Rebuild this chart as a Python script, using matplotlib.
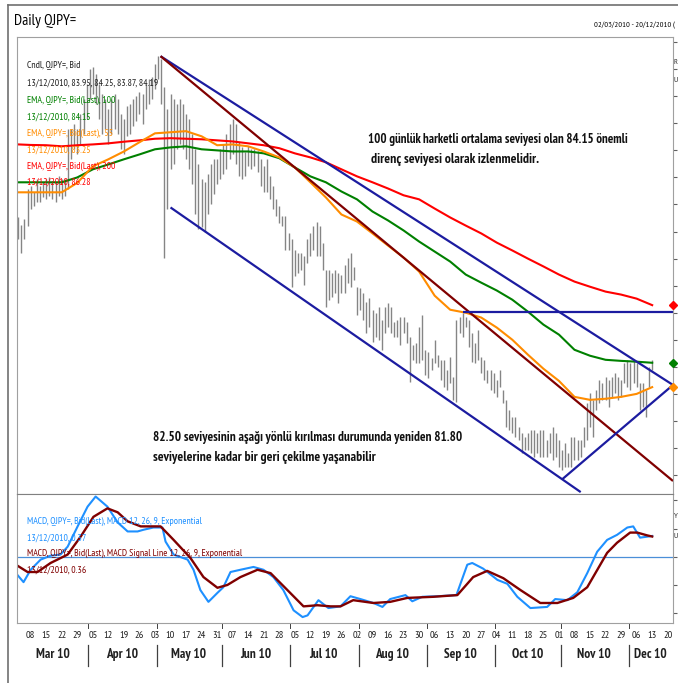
import matplotlib.pyplot as plt
import numpy as np
import pandas as pd
from matplotlib.lines import Line2D

# --- daily bars (high / low), 02/03/2010 .. 13/12/2010 ---
highs = [
    89.52, 89.26, 89.45, 90.56, 90.67, 90.45, 90.93, 90.67, 90.82, 90.93,
    91.00, 90.85, 90.82, 91.04, 90.93, 90.93, 92.78, 92.78, 92.96, 92.78,
    93.34, 93.89, 94.45, 95.00, 95.08, 94.82, 94.45, 94.08, 93.89, 93.52,
    93.89, 94.08, 93.89, 93.34, 93.15, 93.63, 93.71, 93.89, 94.00, 94.15,
    94.08, 94.45, 94.63, 94.71, 95.19, 95.48, 95.37, 94.33, 93.52, 94.08,
    93.89, 93.71, 93.89, 93.71, 93.34, 93.15, 92.59, 92.04, 91.48, 90.93,
    90.82, 91.11, 91.48, 91.67, 91.67, 92.04, 92.22, 92.59, 92.96, 93.15,
    92.96, 92.30, 92.11, 91.93, 92.15, 92.04, 92.04, 91.96, 91.67, 91.41,
    91.67, 91.04, 90.67, 90.19, 89.93, 89.56, 89.56, 88.96, 88.71, 88.33,
    88.22, 88.22, 88.08, 88.71, 88.96, 89.19, 89.34, 89.19, 88.59, 87.59,
    87.59, 87.48, 87.59, 87.48, 87.41, 87.78, 88.04, 88.22, 87.70, 86.96,
    86.93, 86.74, 86.41, 86.56, 86.11, 86.00, 86.22, 85.74, 86.22, 86.37,
    86.22, 85.67, 85.74, 85.85, 85.85, 85.67, 85.11, 84.82, 84.89, 85.48,
    85.93, 84.63, 84.56, 84.33, 85.00, 84.45, 84.26, 84.26, 83.89, 84.37,
    83.63, 85.74, 85.85, 86.00, 85.85, 85.74, 85.26, 84.89, 85.37, 84.37,
    84.26, 83.89, 83.89, 83.78, 83.52, 83.89, 83.15, 82.78, 82.41, 82.15,
    82.15, 81.78, 81.56, 81.41, 81.56, 81.67, 81.67, 81.56, 81.67, 81.67,
    81.30, 81.56, 81.78, 81.56, 81.30, 80.93, 81.19, 80.82, 81.41, 81.41,
    81.30, 81.30, 81.78, 82.67, 83.04, 82.78, 83.15, 83.52, 83.41, 83.63,
    83.52, 83.63, 83.78, 83.63, 83.52, 84.15, 84.26, 84.15, 84.26, 84.15,
    83.41, 83.41, 83.15, 84.00, 84.25,
]
lows = [
    88.71, 88.22, 88.71, 89.19, 89.82, 89.93, 90.08, 90.08, 90.26, 90.19,
    90.30, 90.19, 90.08, 90.30, 90.19, 90.30, 90.56, 91.67, 92.04, 91.85,
    92.22, 92.59, 93.15, 93.89, 94.08, 93.71, 93.15, 92.59, 92.78, 92.22,
    92.59, 92.78, 92.59, 92.04, 91.85, 92.52, 92.59, 92.89, 93.08, 93.34,
    92.96, 93.52, 93.71, 93.89, 94.26, 94.63, 93.71, 88.04, 89.82, 91.30,
    91.48, 92.04, 92.22, 92.04, 91.67, 91.30, 90.74, 89.63, 89.08, 89.15,
    89.00, 89.63, 90.00, 90.37, 90.74, 90.93, 91.11, 91.30, 91.67, 91.85,
    91.48, 91.04, 90.93, 91.04, 91.41, 91.30, 91.41, 91.19, 90.67, 90.45,
    90.45, 90.19, 89.82, 89.56, 89.33, 89.19, 88.33, 88.33, 86.96, 87.34,
    87.48, 87.59, 87.04, 87.85, 88.08, 88.33, 88.08, 88.08, 87.59, 86.22,
    86.48, 86.59, 86.74, 86.37, 86.74, 86.74, 87.11, 86.96, 87.22, 85.93,
    86.11, 85.74, 85.26, 85.48, 84.93, 85.11, 85.00, 84.63, 85.26, 85.48,
    85.26, 85.11, 85.11, 84.82, 85.26, 84.89, 83.45, 84.26, 84.15, 84.15,
    84.26, 83.71, 83.59, 83.89, 84.15, 84.00, 83.52, 83.26, 83.15, 83.41,
    82.78, 82.71, 85.26, 85.11, 85.48, 84.74, 84.19, 84.15, 84.26, 83.78,
    83.52, 83.41, 83.15, 83.04, 82.89, 83.26, 82.67, 81.78, 81.67, 81.56,
    81.41, 81.30, 80.82, 80.93, 80.93, 80.82, 80.67, 80.82, 80.67, 80.67,
    80.67, 80.82, 80.56, 80.67, 80.30, 80.19, 80.30, 80.30, 80.30, 80.56,
    80.56, 80.67, 81.04, 81.30, 81.78, 81.41, 82.41, 82.67, 82.78, 82.78,
    82.52, 82.89, 83.04, 82.78, 82.89, 83.41, 83.26, 83.15, 83.41, 83.26,
    82.41, 82.52, 82.15, 83.26, 83.87,
]

# EMA readings (bar index -> value)
ema_idx = [0, 4, 9, 14, 19, 24, 29, 34, 39, 44, 49, 54, 59, 64, 69, 74, 79, 84, 89, 94, 99,
           104, 109, 114, 119, 124, 129, 134, 139, 144, 149, 154, 159, 164, 169, 174, 179,
           184, 189, 194, 199, 204]
ema200 = [92.22, 92.20, 92.19, 92.15, 92.19, 92.22, 92.26, 92.32, 92.37, 92.43,
          92.45, 92.43, 92.41, 92.37, 92.33, 92.26, 92.19, 92.08, 91.89, 91.74,
          91.56, 91.30, 91.04, 90.82, 90.59, 90.34, 90.19, 89.85, 89.52, 89.22,
          88.93, 88.59, 88.30, 88.00, 87.71, 87.41, 87.15, 86.96, 86.78, 86.67,
          86.52, 86.28]
ema100 = [90.82, 90.82, 90.82, 90.82, 91.00, 91.30, 91.48, 91.67, 91.85, 92.04,
          92.11, 92.15, 92.04, 92.00, 91.96, 91.96, 91.89, 91.71, 91.37, 91.04,
          90.82, 90.48, 90.19, 89.74, 89.41, 89.04, 88.63, 88.26, 87.89, 87.41,
          87.11, 86.82, 86.48, 86.04, 85.56, 85.19, 84.63, 84.41, 84.26, 84.22,
          84.19, 84.15]
ema55 = [90.45, 90.45, 90.45, 90.45, 90.80, 91.41, 91.67, 91.96, 92.30, 92.63,
         92.67, 92.71, 92.52, 92.19, 92.22, 92.15, 91.96, 91.74, 91.37, 90.82,
         90.26, 89.63, 89.37, 88.93, 88.48, 88.04, 87.52, 86.63, 86.11, 86.00,
         85.82, 85.45, 85.00, 84.45, 83.93, 83.48, 82.89, 82.78, 82.82, 82.89,
         83.00, 83.25]

# MACD readings
macd_idx = [-0.3, 1.7, 4.0, 7.2, 10.4, 13.6, 15.9, 19.1, 22.3, 24.9, 28.7, 32.0, 35.2, 38.4,
            40.3, 43.5, 46.4, 47.4, 50.0, 54.5, 56.4, 58.6, 61.2, 64.1, 66.0, 68.3, 71.5,
            75.7, 78.9, 82.1, 85.3, 88.6, 91.5, 93.1, 96.6, 99.8, 103.7, 106.9, 110.1,
            114.3, 117.2, 119.7, 124.6, 126.8, 130.0, 134.9, 141.0, 144.5, 146.1, 149.6,
            154.2, 157.4, 160.6, 164.8, 170.2, 172.8, 176.7, 179.9, 183.1, 186.3, 189.5,
            192.7, 196.0, 197.9, 200.1, 204.0]
macd_val = [-0.32, -0.45, -0.23, -0.05, 0.02, 0.04, 0.18, 0.54, 0.89, 1.07, 0.89, 0.61, 0.45,
            0.45, 0.48, 0.52, 0.52, 0.27, 0.04, -0.05, -0.23, -0.59, -0.80, -0.64, -0.54,
            -0.27, -0.23, -0.18, -0.23, -0.36, -0.59, -0.95, -1.07, -1.04, -0.77, -0.91,
            -0.88, -0.70, -0.75, -0.82, -0.89, -0.75, -0.68, -0.79, -0.71, -0.70, -0.68,
            -0.14, -0.11, -0.21, -0.41, -0.48, -0.71, -0.91, -0.89, -0.75, -0.77, -0.63,
            -0.29, 0.09, 0.30, 0.39, 0.52, 0.54, 0.34, 0.37]
signal_idx = [-0.2, 3.0, 6.2, 10.4, 15.9, 20.1, 24.2, 28.7, 32.0, 35.2, 39.4, 45.8, 50.0,
              55.4, 59.6, 64.1, 67.3, 71.5, 77.0, 81.2, 86.6, 91.8, 96.3, 100.5, 103.7,
              107.8, 114.3, 119.7, 125.2, 133.6, 141.3, 146.4, 150.9, 156.1, 161.6, 168.0,
              173.5, 178.6, 183.1, 189.5, 192.7, 196.9, 199.2, 202.4, 204.0]
signal_val = [-0.16, -0.27, -0.27, -0.11, 0.04, 0.36, 0.71, 0.86, 0.79, 0.63, 0.54, 0.54,
              0.30, -0.02, -0.36, -0.55, -0.50, -0.36, -0.23, -0.29, -0.59, -0.88, -0.86,
              -0.88, -0.88, -0.77, -0.82, -0.80, -0.73, -0.71, -0.68, -0.36, -0.25, -0.38,
              -0.59, -0.82, -0.82, -0.73, -0.54, 0.07, 0.25, 0.43, 0.43, 0.38, 0.36]

# hand-drawn trend lines: (bar index, price) pairs
trend_upper = [(45.8, 95.48), (210.7, 83.33)]
trend_maroon = [(45.8, 95.48), (210.7, 79.78)]
trend_lower = [(49.0, 89.89), (181.0, 79.37)]
trend_rise = [(175.1, 79.85), (210.7, 83.33)]
resistance = [(143.2, 86.04), (210.7, 86.04)]

NAVY = "#1c1ca0"
MAROON = "#800000"
GREEN = "#008000"
ORANGE = "#ff8c00"
RED = "#ff0000"
MBLUE = "#1e90ff"
FRAME = "#a0a0a0"
NARROW = ["PT Sans Narrow", "DejaVu Sans"]

W, H = 678, 683
fig = plt.figure(figsize=(W / 100, H / 100), dpi=100)
renderer = fig.canvas.get_renderer()


def fx(x):
    return x / W


def fy(y):
    return 1 - y / H


def fit_text(x, y, txt, width, **kw):
    """Place a figure text and scale its font so it spans `width` pixels."""
    t = fig.text(fx(x), fy(y), txt, **kw)
    w = t.get_window_extent(renderer=renderer).width
    t.set_fontsize(t.get_fontsize() * width / w)
    return t


ax = fig.add_axes([fx(16.7), fy(494), fx(673) - fx(16.7), fy(37) - fy(494)])
ax2 = fig.add_axes([fx(16.7), fy(622.7), fx(673) - fx(16.7), fy(494) - fy(622.7)], sharex=ax)

idx = np.arange(len(highs))
ax.vlines(idx, lows, highs, color="#858585", linewidth=1.0)

ax.plot(ema_idx, ema200, color=RED, linewidth=1.5)
ax.plot(ema_idx, ema100, color=GREEN, linewidth=1.5)
ax.plot(ema_idx, ema55, color=ORANGE, linewidth=1.5)

for seg, col in [(trend_upper, NAVY), (trend_maroon, MAROON), (trend_lower, NAVY),
                 (trend_rise, NAVY), (resistance, NAVY)]:
    xs, ys = zip(*seg)
    ax.plot(xs, ys, color=col, linewidth=1.6, solid_capstyle="butt")

# value markers on the right edge
xr = 210.7
for val, col in [(ema200[-1], RED), (ema100[-1], GREEN), (ema55[-1], ORANGE)]:
    ax.plot([xr], [val], marker="D", markersize=4.5, color=col, clip_on=False, zorder=5)

ax.set_xlim(-0.5, 210.7)
ax.set_ylim(79.30, 96.19)

ax.yaxis.tick_right()
ax.set_yticks(np.arange(80, 97, 1))
ax.set_yticklabels([])
ax.tick_params(axis="y", length=3, color="#606060", direction="out")
ax.tick_params(axis="x", length=0, labelbottom=False)
for s in ax.spines.values():
    s.set_color(FRAME)

# --- MACD panel ---
ax2.axhline(0, color="#4a8fd8", linewidth=0.9)
ax2.plot(macd_idx, macd_val, color=MBLUE, linewidth=1.5)
ax2.plot(signal_idx, signal_val, color=MAROON, linewidth=1.7)
ax2.set_ylim(-1.17, 1.115)
ax2.yaxis.tick_right()
ax2.set_yticks([-1.0, -0.5, 0.0, 0.5, 1.0])
ax2.set_yticklabels([])
ax2.tick_params(axis="y", length=3, color="#606060")
for s in ax2.spines.values():
    s.set_color(FRAME)
ax2.spines["top"].set_color("#808080")

days = pd.bdate_range("2010-03-02", "2010-12-20")
mondays = [i for i, d in enumerate(days) if d.weekday() == 0]
ax2.set_xticks(mondays)
ax2.set_xticklabels([f"{days[i].day:02d}" for i in mondays], fontsize=7.5, family=NARROW,
                    color="#202020")
ax2.tick_params(axis="x", length=0, pad=6)

months = ["Mar 10", "Apr 10", "May 10", "Jun 10", "Jul 10", "Aug 10", "Sep 10", "Oct 10",
          "Nov 10", "Dec 10"]
month_num = np.array([d.month for d in days])
trans = ax2.get_xaxis_transform()
for k, m in enumerate(range(3, 13)):
    ii = np.where(month_num == m)[0]
    lo, hi = ii[0], min(ii[-1], 210)
    ax2.text((lo + hi) / 2 + 0.8, -0.25, months[k], transform=trans, ha="center",
             va="center", fontsize=9.5, fontweight="bold", family=NARROW, color="#202020")
    if m > 3:
        ax2.add_line(Line2D([lo + 0.5, lo + 0.5], [-0.17, -0.34], transform=trans,
                            color="#404040", linewidth=0.9, clip_on=False))
        ax2.add_line(Line2D([lo + 0.5, lo + 0.5], [0.0, -0.04], transform=trans,
                            color="#404040", linewidth=0.7, clip_on=False))

# --- frame and titles ---
fig.add_artist(Line2D([fx(8), 1], [fy(5), fy(5)], color="#707070", linewidth=1.2))
fig.add_artist(Line2D([fx(8), fx(8)], [fy(5), 0], color="#707070", linewidth=1.2))
fit_text(14, 21, "Daily QJPY=", 63, fontsize=12, va="center", family=NARROW)
fit_text(594, 26, "02/03/2010 - 20/12/2010 (", 82, fontsize=6, va="center", family=NARROW)
for letter, yy in [("R", 62), ("U", 80), ("Y", 516), ("U", 537)]:
    fig.text(fx(677.5), fy(yy), letter, fontsize=6, va="center", ha="right",
             family=NARROW, color="#303030")

legend_lines = [
    ("Cndl, QJPY=, Bid", 65, "#202020"),
    ("13/12/2010, 83.95, 84.25, 83.87, 84.19", 83, "#202020"),
    ("EMA, QJPY=, Bid(Last), 100", 100, GREEN),
    ("13/12/2010, 84.15", 117, GREEN),
    ("EMA, QJPY=, Bid(Last),  55", 133, ORANGE),
    ("13/12/2010, 83.25", 150, ORANGE),
    ("EMA, QJPY=, Bid(Last), 200", 166, RED),
    ("13/12/2010, 86.28", 182, RED),
    ("MACD, QJPY=, Bid(Last), MACD 12, 26, 9, Exponential", 521, MBLUE),
    ("13/12/2010, 0.37", 538, MBLUE),
    ("MACD, QJPY=, Bid(Last), MACD Signal Line 12, 26, 9, Exponential", 553, MAROON),
    ("13/12/2010, 0.36", 570, MAROON),
]
probe = fit_text(27, 553, legend_lines[10][0], 215, fontsize=7, va="center", family=NARROW)
legend_size = probe.get_fontsize()
probe.remove()
for txt, y, col in legend_lines:
    fig.text(fx(27), fy(y), txt, color=col, fontsize=legend_size, va="center", family=NARROW)

note_kw = dict(fontsize=9, fontweight="bold", va="center", family=NARROW, color="#111111")
fit_text(368, 139, "100 günlük harketli ortalama seviyesi olan 84.15 önemli", 260, **note_kw)
fit_text(371, 160, "direnç seviyesi olarak izlenmelidir.", 166, **note_kw)
fit_text(153, 437, "82.50 seviyesinin aşağı yönlü kırılması durumunda yeniden 81.80", 306, **note_kw)
fit_text(153, 457, "seviyelerine kadar bir geri çekilme yaşanabilir", 220, **note_kw)

fig.savefig("out.png", dpi=100, facecolor="white")
